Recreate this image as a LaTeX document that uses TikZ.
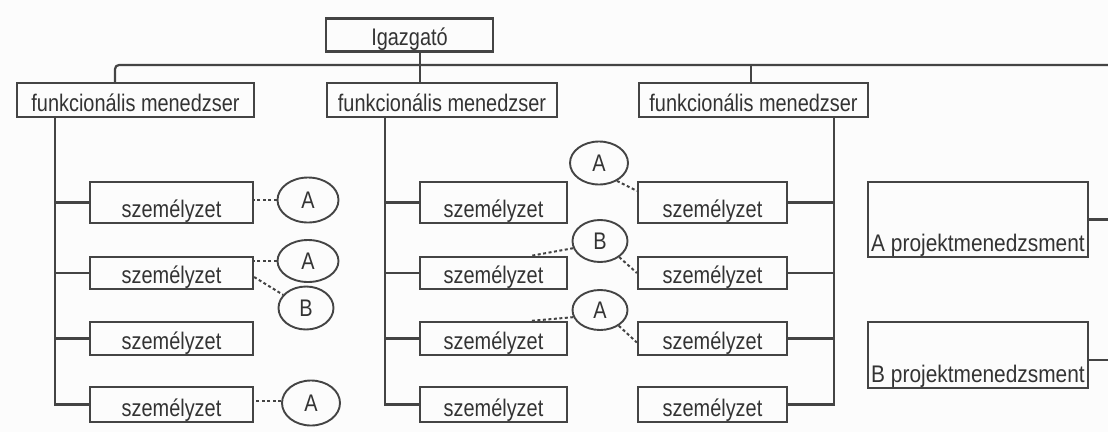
\documentclass[tikz,border=0pt]{standalone}
\usepackage{fontspec}
\setmainfont{Liberation Sans}[FakeStretch=0.83]
\newfontfamily\projfont{Liberation Sans}[FakeStretch=0.87]
\usetikzlibrary{shapes.geometric}
\definecolor{ln}{HTML}{444444}
\definecolor{tx}{HTML}{333333}
\definecolor{bg}{HTML}{FCFCFC}
\tikzset{
  pbox/.style={draw=ln, line width=2.2pt, inner xsep=0pt, inner ysep=1pt,
               text depth=5pt, text=tx},
  colL/.style={minimum width=163pt},
  colM/.style={minimum width=147pt},
  colR/.style={minimum width=149pt},
  rowA/.style={text height=34pt},
  rowB/.style={text height=25pt},
  rowC/.style={text height=26pt},
  rowD/.style={text height=28pt},
  ell/.style={ellipse, draw=ln, line width=1.9pt, inner sep=0pt,
              minimum width=58pt, minimum height=42pt, text=tx},
  link/.style={draw=ln, line width=2.2pt},
  dsh/.style={draw=ln, line width=2pt, dash pattern=on 3pt off 2.5pt}
}
\begin{document}
\begin{tikzpicture}[x=1pt, y=-1pt, font=\fontsize{24}{26}\selectfont]
\fill[bg] (0,0) rectangle (1108,432);
\useasboundingbox (0,0) rectangle (1108,432);

% director and functional managers
\node[pbox, minimum width=167pt, text height=26pt] (ig) at (409.5,35) {Igazgató};
\node[pbox, minimum width=237pt, text height=27pt] (f1) at (135.5,100) {funkcionális menedzser};
\node[pbox, minimum width=230pt, text height=27pt] (f2) at (442,100) {funkcionális menedzser};
\node[pbox, minimum width=229pt, text height=27pt] (f3) at (753.5,100) {funkcionális menedzser};

% staff boxes
\node[pbox, colL, rowA] (pL1) at (171.5,202.5) {személyzet};
\node[pbox, colL, rowB] (pL2) at (171.5,273)   {személyzet};
\node[pbox, colL, rowC] (pL3) at (171.5,338.5) {személyzet};
\node[pbox, colL, rowD] (pL4) at (171.5,404.5) {személyzet};

\node[pbox, colM, rowA] (pM1) at (493.5,202.5) {személyzet};
\node[pbox, colM, rowB] (pM2) at (493.5,273)   {személyzet};
\node[pbox, colM, rowC] (pM3) at (493.5,338.5) {személyzet};
\node[pbox, colM, rowD] (pM4) at (493.5,404.5) {személyzet};

\node[pbox, colR, rowA] (pR1) at (712.5,202.5) {személyzet};
\node[pbox, colR, rowB] (pR2) at (712.5,273)   {személyzet};
\node[pbox, colR, rowC] (pR3) at (712.5,338.5) {személyzet};
\node[pbox, colR, rowD] (pR4) at (712.5,404.5) {személyzet};

% project management boxes
\node[pbox, minimum width=220pt, text height=68pt, font=\projfont\fontsize{24}{26}\selectfont] (pA) at (978,219.5) {A projektmenedzsment};
\node[pbox, minimum width=220pt, text height=59pt, font=\projfont\fontsize{24}{26}\selectfont] (pB) at (978,355) {B projektmenedzsment};

% project membership ellipses
\node[ell, minimum width=61pt, minimum height=45pt] (eA1) at (308,200) {A};
\node[ell, minimum width=61pt] (eA2) at (308,261) {A};
\node[ell, minimum width=55pt, minimum height=43pt] (eB1) at (306,308) {B};
\node[ell, minimum height=45pt] (eA3) at (311,403) {A};
\node[ell, minimum height=43pt] (eA4) at (599,163) {A};
\node[ell, minimum width=55pt] (eB2) at (600,241) {B};
\node[ell, minimum width=55pt, minimum height=40pt] (eA5) at (600,310) {A};

% bus from the director
\coordinate (busR) at (1108,65);
\draw[link, rounded corners=4pt] ([xshift=-20.5pt]f1.north) |- (busR);
\draw[link] ([xshift=10.5pt]ig.south) -- ([xshift=10.5pt]ig.south |- f2.north);
\draw[link] ([xshift=-2.5pt]f3.north) -- ([xshift=-2.5pt]f3.north |- busR);

% staff trunks
\coordinate (tL) at ([xshift=-80.5pt]f1.south);
\coordinate (tM) at ([xshift=-57pt]f2.south);
\coordinate (tR) at ([xshift=80.5pt]f3.south);
\draw[link] (tL) |- (pL4.west);
\draw[link] (tM) |- (pM4.west);
\draw[link] (tR) |- (pR4.east);
\foreach \i in {1,2,3}{
  \draw[link] (pL\i.west) -- (pL\i.west -| tL);
  \draw[link] (pM\i.west) -- (pM\i.west -| tM);
  \draw[link] (pR\i.east) -- (pR\i.east -| tR);
}

% project boxes to the right edge
\draw[link] (pA.east) -- (pA.east -| busR);
\draw[link] ([yshift=-5pt]pB.east) -- ([yshift=-5pt]pB.east -| busR);

% dashed project assignments
\draw[dsh] (eA1.west) -- (eA1.west -| pL1.east);
\draw[dsh] (eA2.west) -- (eA2.west -| pL2.east);
\draw[dsh] ([yshift=-4pt]pL2.east) -- (eB1.150);
\draw[dsh] ([yshift=2pt]eA3.west) -- ([yshift=2pt]eA3.west -| pL4.east);
\draw[dsh] (eA4.-45) -- ([yshift=-10pt]pR1.north west);
\draw[dsh] (eB2.195) -- ([xshift=37pt]pM2.north);
\draw[dsh] (eB2.-40) -- (pR2.west);
\draw[dsh] (eA5.195) -- ([xshift=37pt]pM3.north);
\draw[dsh] (eA5.-40) -- ([yshift=-4pt]pR3.west);
\end{tikzpicture}
\end{document}
